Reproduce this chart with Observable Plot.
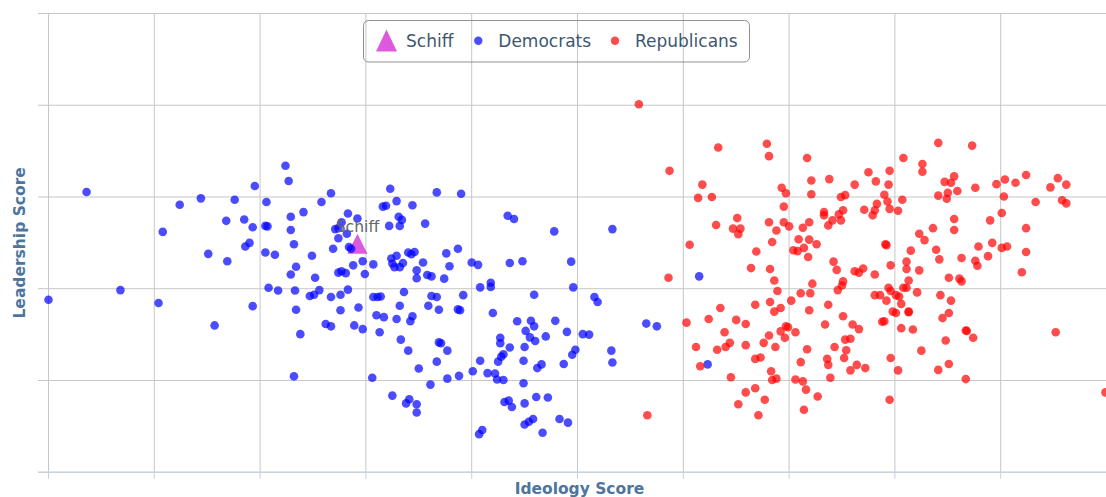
<!DOCTYPE html>
<html><head><meta charset="utf-8">
<script src="https://cdn.jsdelivr.net/npm/d3@7"></script>
<script src="https://cdn.jsdelivr.net/npm/@observablehq/plot@0.6"></script>
<style>
html,body{margin:0;padding:0;background:#fff;overflow:hidden;width:1106px;height:497px;}
#wrap{position:relative;width:1106px;height:497px;overflow:hidden;}
#wrap svg{position:absolute;left:0;top:0;max-width:none !important;}
</style></head>
<body><div id="wrap"></div>
<script>
// ---- data (ideology score, leadership score) ----
const xTicks = [0,0.1,0.2,0.3,0.4,0.5,0.6,0.7,0.8,0.9,1];
const yTicks = [0,0.2,0.4,0.6,0.8,1];
const seriesNames = ["Schiff","Democrats","Republicans"];
const seriesColors = ["rgb(204,0,204)","rgb(0,0,255)","rgb(255,0,0)"];
const schiff = [[0.292,0.498]];
const democrats = [
[0.036,0.611],[0.224,0.668],[0.227,0.635],[0.195,0.624],[0.267,0.608],[0.144,0.597],[0.176,0.594],[0.124,0.583],[0.206,0.589],[0.258,0.589],
[0.241,0.567],[0.229,0.557],[0.283,0.564],[0.292,0.553],[0.168,0.548],[0.185,0.551],[0.193,0.534],[0.205,0.537],[0.207,0.536],[0.229,0.528],
[0.277,0.545],[0.271,0.530],[0.274,0.532],[0.282,0.520],[0.274,0.510],[0.108,0.524],[0.190,0.500],[0.186,0.492],[0.232,0.497],[0.269,0.487],
[0.284,0.491],[0.286,0.487],[0.151,0.476],[0.169,0.460],[0.205,0.479],[0.214,0.474],[0.249,0.472],[0.288,0.451],[0.297,0.460],[0.234,0.448],
[0.229,0.431],[0.252,0.424],[0.274,0.435],[0.277,0.438],[0.281,0.434],[0.299,0.432],[0.000,0.376],[0.068,0.397],[0.104,0.369],[0.193,0.362],
[0.208,0.402],[0.217,0.396],[0.233,0.396],[0.234,0.354],[0.247,0.384],[0.251,0.387],[0.256,0.397],[0.267,0.382],[0.276,0.387],[0.283,0.398],
[0.276,0.353],[0.293,0.359],[0.157,0.320],[0.238,0.301],[0.262,0.323],[0.267,0.318],[0.289,0.320],[0.297,0.312],[0.232,0.209],
[0.323,0.618],[0.367,0.610],[0.390,0.607],[0.316,0.579],[0.319,0.581],[0.329,0.591],[0.344,0.582],[0.331,0.557],[0.334,0.550],[0.322,0.537],
[0.332,0.537],[0.356,0.542],[0.434,0.559],[0.440,0.552],[0.478,0.525],[0.533,0.530],[0.387,0.487],
[0.307,0.453],[0.324,0.466],[0.329,0.472],[0.325,0.455],[0.327,0.447],[0.332,0.447],[0.335,0.456],[0.340,0.479],[0.343,0.475],[0.346,0.480],
[0.354,0.457],[0.376,0.477],[0.379,0.449],[0.348,0.440],[0.348,0.423],[0.358,0.430],[0.362,0.427],[0.374,0.422],[0.400,0.457],[0.406,0.452],
[0.436,0.456],[0.448,0.460],[0.494,0.459],
[0.307,0.382],[0.311,0.382],[0.314,0.383],[0.336,0.393],[0.332,0.363],[0.362,0.384],[0.367,0.382],[0.359,0.363],[0.369,0.354],[0.392,0.386],
[0.387,0.355],[0.389,0.353],
[0.310,0.342],[0.317,0.338],[0.329,0.334],[0.344,0.340],[0.342,0.329],[0.313,0.305],[0.333,0.289],[0.340,0.265],[0.369,0.283],[0.371,0.281],
[0.377,0.265],[0.367,0.241],[0.350,0.226],
[0.306,0.206],[0.325,0.167],[0.341,0.159],[0.338,0.150],[0.348,0.148],[0.348,0.130],[0.361,0.191],[0.377,0.204],[0.388,0.210],[0.401,0.220],
[0.408,0.243],[0.415,0.216],[0.422,0.215],[0.424,0.202],[0.430,0.201],
[0.408,0.403],[0.418,0.413],[0.418,0.404],[0.420,0.347],[0.459,0.387],[0.496,0.403],[0.516,0.382],[0.519,0.371],
[0.443,0.329],[0.456,0.330],[0.459,0.318],[0.479,0.330],[0.451,0.308],[0.455,0.294],[0.460,0.286],[0.470,0.296],[0.490,0.306],
[0.427,0.293],[0.427,0.281],[0.436,0.272],[0.450,0.273],[0.430,0.257],[0.428,0.252],[0.425,0.241],[0.449,0.243],[0.462,0.227],[0.466,0.235],
[0.487,0.236],[0.498,0.267],[0.495,0.256],[0.505,0.301],[0.511,0.300],[0.532,0.265],[0.533,0.239],[0.565,0.324],[0.575,0.318],[0.615,0.427],
[0.623,0.235],
[0.449,0.194],[0.431,0.153],[0.435,0.156],[0.438,0.142],[0.450,0.150],[0.461,0.164],[0.472,0.163],[0.450,0.104],[0.454,0.110],[0.458,0.116],
[0.483,0.116],[0.491,0.108],[0.467,0.086],[0.407,0.083],[0.410,0.092]
];
const republicans = [
[0.558,0.802],[0.633,0.708],[0.587,0.657],[0.618,0.627],[0.614,0.598],[0.627,0.600],[0.631,0.539],[0.647,0.531],[0.651,0.554],[0.652,0.519],
[0.654,0.531],[0.606,0.496],
[0.586,0.424],[0.635,0.358],[0.603,0.326],[0.624,0.334],[0.650,0.332],[0.639,0.305],[0.612,0.273],[0.632,0.267],[0.640,0.273],[0.644,0.282],
[0.616,0.231],[0.645,0.207],[0.652,0.148],[0.566,0.124],
[0.679,0.716],[0.681,0.689],[0.717,0.685],[0.808,0.685],[0.841,0.718],[0.873,0.712],[0.826,0.672],[0.826,0.655],[0.775,0.654],[0.795,0.657],
[0.738,0.639],[0.721,0.636],[0.782,0.634],[0.794,0.627],[0.762,0.627],[0.693,0.620],[0.697,0.608],[0.721,0.606],[0.749,0.600],[0.753,0.604],
[0.790,0.605],[0.793,0.590],[0.783,0.585],[0.781,0.571],[0.779,0.560],[0.771,0.572],[0.795,0.574],[0.803,0.570],[0.807,0.594],[0.695,0.579],
[0.733,0.567],[0.733,0.560],[0.747,0.562],[0.751,0.571],[0.749,0.549],[0.741,0.549],[0.737,0.538],[0.719,0.545],[0.713,0.533],[0.700,0.536],
[0.695,0.545],[0.681,0.545],[0.688,0.527],[0.684,0.502],[0.709,0.508],[0.719,0.507],[0.726,0.497],[0.704,0.484],[0.714,0.489],[0.708,0.482],
[0.669,0.481],[0.791,0.497],[0.792,0.495],[0.815,0.483],[0.823,0.520],[0.828,0.506],[0.836,0.532],[0.839,0.485],[0.856,0.552],[0.856,0.528],
[0.847,0.633],[0.853,0.631],[0.856,0.645],[0.841,0.603],[0.850,0.609],[0.849,0.596],[0.859,0.613],[0.876,0.620],[0.890,0.549],[0.892,0.500],
[0.879,0.492],[0.901,0.565],[0.896,0.628],[0.904,0.638],[0.903,0.601],[0.914,0.631],[0.924,0.648],[0.933,0.589],[0.924,0.532],[0.901,0.489],
[0.906,0.492],[0.924,0.480],[0.947,0.621],[0.954,0.641],[0.962,0.627],[0.958,0.593],[0.962,0.586],
[0.718,0.469],[0.664,0.445],[0.682,0.443],[0.686,0.418],[0.689,0.395],[0.668,0.365],[0.682,0.371],[0.686,0.350],[0.692,0.358],[0.702,0.374],
[0.711,0.390],[0.720,0.390],[0.722,0.411],[0.719,0.353],[0.737,0.365],[0.742,0.459],[0.745,0.441],[0.762,0.438],[0.766,0.435],[0.770,0.444],
[0.751,0.416],[0.750,0.407],[0.746,0.397],[0.781,0.431],[0.796,0.451],[0.811,0.459],[0.811,0.443],[0.823,0.440],[0.813,0.418],[0.811,0.402],
[0.808,0.402],[0.794,0.402],[0.796,0.395],[0.821,0.392],[0.781,0.386],[0.786,0.386],[0.792,0.374],[0.801,0.386],[0.804,0.383],[0.806,0.367],
[0.798,0.350],[0.801,0.347],[0.813,0.350],[0.813,0.349],[0.790,0.329],[0.788,0.328],[0.751,0.340],[0.734,0.322],[0.760,0.322],[0.766,0.312],
[0.806,0.314],[0.817,0.311],[0.843,0.386],[0.853,0.374],[0.851,0.347],[0.845,0.336],[0.842,0.464],[0.863,0.467],[0.851,0.424],[0.861,0.422],
[0.863,0.416],[0.876,0.461],[0.878,0.450],[0.888,0.471],[0.920,0.436],[0.867,0.309],[0.868,0.308],[0.874,0.293],[0.848,0.287],[0.825,0.265],
[0.659,0.323],[0.659,0.277],[0.676,0.282],[0.681,0.298],[0.687,0.273],[0.692,0.307],[0.697,0.318],[0.699,0.316],[0.696,0.293],[0.706,0.305],
[0.717,0.268],[0.743,0.273],[0.753,0.289],[0.758,0.291],[0.754,0.266],[0.752,0.249],[0.736,0.247],[0.737,0.234],[0.711,0.240],[0.668,0.247],
[0.673,0.250],[0.683,0.220],[0.684,0.201],[0.688,0.204],[0.764,0.234],[0.758,0.222],[0.772,0.227],[0.739,0.206],[0.706,0.202],[0.713,0.198],
[0.716,0.180],[0.727,0.165],[0.714,0.136],[0.796,0.249],[0.803,0.222],[0.841,0.223],[0.851,0.236],[0.867,0.203],[0.795,0.158],[0.668,0.183],
[0.659,0.174],[0.677,0.158],[0.671,0.124],[0.952,0.305],[0.999,0.174]
];

// ---- chart ----
const FONT = "DejaVu Sans";
const triangle = {draw(ctx, size){ const r = Math.sqrt(size/Math.PI); ctx.moveTo(0,-r); ctx.lineTo(r,r); ctx.lineTo(-r,r); ctx.closePath(); }};
const X = d => d[0], Y = d => d[1];

const chart = Plot.plot({
  width: 1120, height: 497,
  marginLeft: 38, marginRight: 0, marginTop: 13, marginBottom: 25.3,
  x: {domain: [-0.00945, 1.01323]},
  y: {domain: [0, 1], axis: null},
  style: {fontFamily: FONT, background: "transparent", overflow: "visible", maxWidth: "none"},
  marks: [
    Plot.gridX(xTicks, {stroke: "#c6c6c6", strokeOpacity: 1}),
    Plot.gridY(yTicks, {stroke: "#c6c6c6", strokeOpacity: 1}),
    Plot.ruleY([0], {stroke: "#c0d0e0"}),
    Plot.axisX(xTicks, {tickSize: 7, tickFormat: () => "", stroke: "#c0d0e0", label: null}),
    Plot.text(["Ideology Score"], {text: d => d, frameAnchor: "bottom", textAnchor: "middle", lineAnchor: "bottom", dy: 21.5, fontSize: 15.5, fontWeight: "bold", fill: "#4d759e"}),
    Plot.text(["Leadership Score"], {text: d => d, frameAnchor: "left", textAnchor: "middle", rotate: -90, dx: -18, fontSize: 15.5, fontWeight: "bold", fill: "#4d759e"}),
    Plot.dot(schiff, {x: X, y: Y, symbol: triangle, r: 10, fill: seriesColors[0], fillOpacity: 0.65}),
    Plot.dot(democrats, {x: X, y: Y, r: 4.3, fill: seriesColors[1], fillOpacity: 0.7}),
    Plot.dot(republicans, {x: X, y: Y, r: 4.3, fill: seriesColors[2], fillOpacity: 0.7}),
    Plot.text(schiff, {x: X, y: Y, text: () => seriesNames[0], dy: -17, fontSize: 15.6, fill: "#666"})
  ]
});
chart.style.maxWidth = "none";
chart.style.width = "1120px";
chart.style.height = "497px";
const wrap = document.getElementById("wrap");
wrap.appendChild(chart);

// ---- legend overlay ----
const lg = d3.select(wrap).append("svg").attr("width", 1106).attr("height", 80)
  .style("font-family", FONT).style("font-size", "17px");
lg.append("rect").attr("x", 363.5).attr("y", 20.5).attr("width", 386).attr("height", 41.5).attr("rx", 5)
  .attr("fill", "none").attr("stroke", "#909090");
const itemX = [406, 498.3, 635];
lg.append("path").attr("d", "M386.5,29.5L397,51.5L376,51.5Z").attr("fill", seriesColors[0]).attr("fill-opacity", 0.65);
lg.append("circle").attr("cx", 478.3).attr("cy", 40.7).attr("r", 4.2).attr("fill", seriesColors[1]).attr("fill-opacity", 0.7);
lg.append("circle").attr("cx", 615).attr("cy", 40.7).attr("r", 4.2).attr("fill", seriesColors[2]).attr("fill-opacity", 0.7);
seriesNames.forEach((n, i) => lg.append("text").attr("x", itemX[i]).attr("y", 46.5).attr("fill", "#3E576F").text(n));
</script>
</body></html>
